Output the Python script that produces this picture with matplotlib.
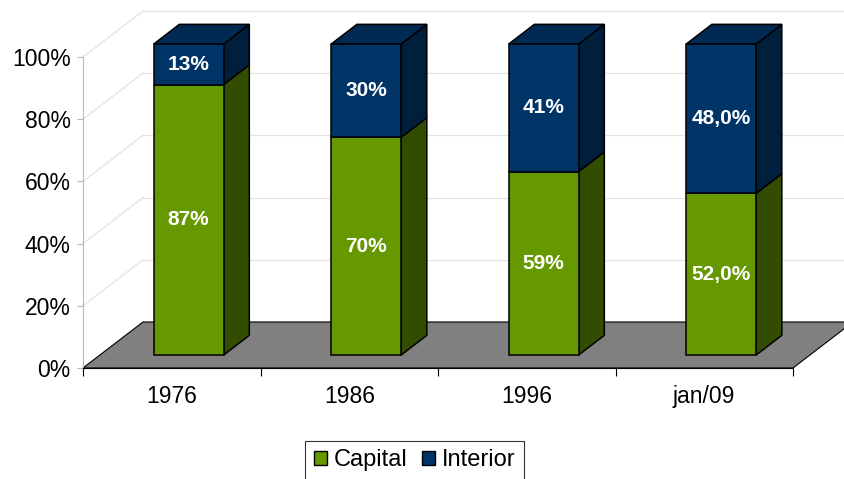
import matplotlib
matplotlib.use('Agg')
import matplotlib.pyplot as plt
from matplotlib.patches import Polygon, Patch

plt.rcParams['font.family'] = ['Liberation Sans', 'DejaVu Sans']

# dados
categorias = ['1976', '1986', '1996', 'jan/09']
capital = [87, 70, 59, 52]
interior = [13, 30, 41, 48]
rot_capital = ['87%', '70%', '59%', '52,0%']
rot_interior = ['13%', '30%', '41%', '48,0%']

# cores (estilo Excel 2003)
verde, verde_lado = '#669900', '#334d00'
azul, azul_lado, azul_topo = '#003366', '#001f3d', '#002a52'

fig = plt.figure(figsize=(8.44, 4.79), dpi=100)
W, H = 844, 479
# plano frontal do grafico em pixels: x 83..793, y 57..368
ax = fig.add_axes([83 / W, (H - 368) / H, 710 / W, 311 / H])
ax.set_xlim(0, 4)
ax.set_ylim(0, 100)

# profundidade 3d (em unidades de dados)
DX, DY = 60 / 177.5, 46 / 3.11
f_frente, f_fundo = 0.28, 0.71
ox, oy = DX * f_frente, DY * f_frente
px, py = DX * (f_fundo - f_frente), DY * (f_fundo - f_frente)
largura = 0.394

# linhas de grade nas paredes
for v in range(0, 101, 20):
    ax.plot([0, DX], [v, v + DY], color='#e3e3e3', lw=0.9, clip_on=False, zorder=0)
    ax.plot([DX, 4 + DX], [v + DY, v + DY], color='#e3e3e3', lw=0.9, clip_on=False, zorder=0)

# piso
piso = Polygon([(0, 0), (4, 0), (4 + DX, DY), (DX, DY)], closed=True,
               facecolor='#808080', edgecolor='black', lw=0.8, clip_on=False, zorder=1)
ax.add_patch(piso)

for i in range(len(categorias)):
    x0 = i + 0.5 + ox - largura / 2
    x1 = x0 + largura
    base = 0
    for val, cor, cor_lado, rot in [(capital[i], verde, verde_lado, rot_capital[i]),
                                    (interior[i], azul, azul_lado, rot_interior[i])]:
        ax.bar(i + 0.5 + ox, val, bottom=oy + base, width=largura, color=cor,
               edgecolor='black', lw=1.1, clip_on=False, zorder=3)
        lado = Polygon([(x1, oy + base), (x1, oy + base + val),
                        (x1 + px, oy + base + val + py), (x1 + px, oy + base + py)],
                       closed=True, facecolor=cor_lado, edgecolor='black', lw=1.1,
                       clip_on=False, zorder=2)
        ax.add_patch(lado)
        ax.text(i + 0.5 + ox, oy + base + val / 2, rot, color='white', fontsize=15,
                fontweight='bold', ha='center', va='center', zorder=5)
        base += val
    topo = Polygon([(x0, oy + base), (x1, oy + base), (x1 + px, oy + base + py),
                    (x0 + px, oy + base + py)], closed=True, facecolor=azul_topo,
                   edgecolor='black', lw=1.1, clip_on=False, zorder=2)
    ax.add_patch(topo)

# eixos
for s in ['top', 'right']:
    ax.spines[s].set_visible(False)
ax.spines['left'].set_color('#b8b8b8')
ax.spines['bottom'].set_color('black')
ax.spines['bottom'].set_linewidth(0.8)
ax.set_facecolor('none')

ax.set_yticks(range(0, 101, 20))
ax.set_yticklabels([f'{v}%' for v in range(0, 101, 20)])
ax.tick_params(axis='y', length=4, color='#b8b8b8', pad=5, labelsize=16.5)

ax.set_xticks(range(5))
ax.set_xticklabels([''] * 5)
ax.set_xticks([i + 0.5 for i in range(4)], minor=True)
ax.set_xticklabels(categorias, minor=True)
ax.tick_params(axis='x', which='major', length=6, color='black', width=0.8)
ax.tick_params(axis='x', which='minor', length=0, pad=12, labelsize=16.5)

# legenda
handles = [Patch(facecolor=verde, edgecolor='black', label='Capital'),
           Patch(facecolor=azul, edgecolor='black', label='Interior')]
leg = fig.legend(handles=handles, loc='upper center', bbox_to_anchor=(414.5 / W, 1 - 441 / H),
                 ncol=2, fontsize=17, frameon=True, fancybox=False, edgecolor='black',
                 handlelength=0.55, handleheight=0.55, handletextpad=0.3, columnspacing=0.6,
                 borderpad=0.35, borderaxespad=0)
leg.get_frame().set_linewidth(0.8)

fig.savefig('out.png', dpi=100)
